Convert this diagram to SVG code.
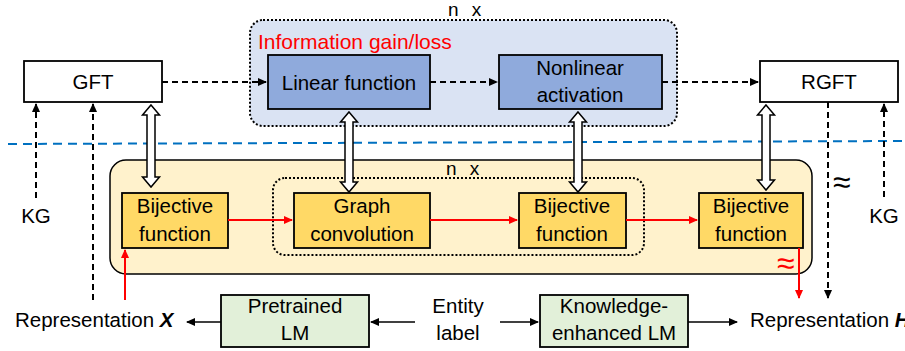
<svg xmlns="http://www.w3.org/2000/svg" width="905" height="351" viewBox="0 0 905 351">
<defs>
<style>
text{font-family:"Liberation Sans",Arial,sans-serif;font-size:20.5px;fill:#000}
.c{text-anchor:middle}
.box{stroke:#000;stroke-width:1.8}
.dash{fill:none;stroke:#000;stroke-width:2;stroke-dasharray:6,4}
.red{fill:none;stroke:#f00;stroke-width:2}
.solid{fill:none;stroke:#000;stroke-width:1.5}
.hollow{fill:#fff;stroke:#000;stroke-width:1.5}
.nx{font-size:19px;letter-spacing:4px}
.approx{font-family:"Liberation Sans",sans-serif;font-size:32px}
</style>
<marker id="ab" markerWidth="10" markerHeight="10" refX="8" refY="5" orient="auto" markerUnits="userSpaceOnUse"><path d="M0,1 L9,5 L0,9 Z" fill="#000"/></marker>
<marker id="ar" markerWidth="10" markerHeight="10" refX="8" refY="5" orient="auto" markerUnits="userSpaceOnUse"><path d="M0,1 L9,5 L0,9 Z" fill="#f00"/></marker>
</defs>
<rect width="905" height="351" fill="#fff"/>

<g id="outer-top">
<rect x="250" y="20" width="427" height="106" rx="13" fill="#DAE3F3" stroke="#000" stroke-width="2" stroke-dasharray="2,2"/>
<text class="nx" x="448" y="16">n x</text>
<text x="258" y="49" style="fill:#f00;font-size:21px">Information gain/loss</text>
</g>
<g id="outer-bottom">
<rect x="110" y="160" width="702" height="114" rx="16" fill="#FFF2CC" stroke="#000" stroke-width="1.5"/>
<rect x="273" y="178" width="371" height="77" rx="12" fill="none" stroke="#000" stroke-width="2" stroke-dasharray="2,2"/>
<text class="nx" x="446" y="175">n x</text>
</g>
<line x1="8" y1="144" x2="905" y2="141" stroke="#0070C0" stroke-width="2" stroke-dasharray="9,6"/>

<g id="gft"><rect class="box" x="24" y="61" width="138" height="41" fill="#fff"/><text class="c" x="93" y="89">GFT</text></g>
<g id="rgft"><rect class="box" x="760" y="61" width="138" height="41" fill="#fff"/><text class="c" x="829" y="89">RGFT</text></g>
<g id="linear"><rect class="box" x="268" y="55" width="162" height="54" fill="#8FAADC"/><text class="c" x="349" y="90">Linear function</text></g>
<g id="nonlinear"><rect class="box" x="499" y="55" width="163" height="54" fill="#8FAADC"/><text class="c" x="580" y="75">Nonlinear</text><text class="c" x="580" y="102">activation</text></g>
<g id="bij1"><rect class="box" x="122" y="193" width="106" height="55" fill="#FFD966"/><text class="c" x="175" y="213">Bijective</text><text class="c" x="175" y="241">function</text></g>
<g id="graphconv"><rect class="box" x="294" y="193" width="136" height="55" fill="#FFD966"/><text class="c" x="362" y="213">Graph</text><text class="c" x="362" y="241">convolution</text></g>
<g id="bij2"><rect class="box" x="519" y="193" width="107" height="55" fill="#FFD966"/><text class="c" x="572" y="213">Bijective</text><text class="c" x="572" y="241">function</text></g>
<g id="bij3"><rect class="box" x="699" y="193" width="104" height="55" fill="#FFD966"/><text class="c" x="751" y="213">Bijective</text><text class="c" x="751" y="241">function</text></g>
<g id="plm"><rect class="box" x="221" y="295" width="148" height="52" fill="#E2F0D9"/><text class="c" x="295" y="313">Pretrained</text><text class="c" x="295" y="340">LM</text></g>
<g id="klm"><rect class="box" x="540" y="295" width="148" height="52" fill="#E2F0D9"/><text class="c" x="614" y="313">Knowledge-</text><text class="c" x="614" y="340">enhanced LM</text></g>
<g id="entity"><text class="c" x="458" y="313">Entity</text><text class="c" x="458" y="340">label</text></g>
<g id="kg-left"><text class="c" x="36" y="223">KG</text></g>
<g id="kg-right"><text class="c" x="884" y="223">KG</text></g>
<g id="rep-x"><text x="15" y="327">Representation <tspan font-weight="bold" font-style="italic">X</tspan></text></g>
<g id="rep-h"><text x="750" y="327">Representation <tspan font-weight="bold" font-style="italic">H</tspan></text></g>

<g id="connectors">
<line class="dash" x1="162" y1="82" x2="266" y2="82" marker-end="url(#ab)"/>
<line class="dash" x1="430" y1="82" x2="497" y2="82" marker-end="url(#ab)"/>
<line class="dash" x1="662" y1="82" x2="758" y2="82" marker-end="url(#ab)"/>
<line class="dash" x1="36" y1="198" x2="36" y2="104" marker-end="url(#ab)"/>
<line class="dash" x1="93" y1="300" x2="93" y2="104" marker-end="url(#ab)"/>
<line class="dash" x1="828" y1="102" x2="828" y2="298" marker-end="url(#ab)"/>
<line class="dash" x1="884" y1="197" x2="884" y2="104" marker-end="url(#ab)"/>
<line class="red" x1="228" y1="220" x2="292" y2="220" marker-end="url(#ar)"/>
<line class="red" x1="430" y1="220" x2="517" y2="220" marker-end="url(#ar)"/>
<line class="red" x1="626" y1="220" x2="697" y2="220" marker-end="url(#ar)"/>
<line class="red" x1="125" y1="300" x2="125" y2="250" marker-end="url(#ar)"/>
<line class="red" x1="799" y1="248" x2="799" y2="298" marker-end="url(#ar)"/>
<line class="solid" x1="221" y1="322" x2="187" y2="322" marker-end="url(#ab)"/>
<line class="solid" x1="415" y1="322" x2="371" y2="322" marker-end="url(#ab)"/>
<line class="solid" x1="500" y1="322" x2="538" y2="322" marker-end="url(#ab)"/>
<line class="solid" x1="688" y1="322" x2="737" y2="322" marker-end="url(#ab)"/>
<path class="hollow" d="M151,105 l8.5,10 h-4.5 v62 h4.5 l-8.5,10 l-8.5,-10 h4.5 v-62 h-4.5 Z"/>
<path class="hollow" d="M349,112 l8.5,10 h-4.5 v60 h4.5 l-8.5,10 l-8.5,-10 h4.5 v-60 h-4.5 Z"/>
<path class="hollow" d="M578,112 l8.5,10 h-4.5 v60 h4.5 l-8.5,10 l-8.5,-10 h4.5 v-60 h-4.5 Z"/>
<path class="hollow" d="M766,105 l8.5,10 h-4.5 v65 h4.5 l-8.5,10 l-8.5,-10 h4.5 v-65 h-4.5 Z"/>
<text class="approx" x="833" y="193">≈</text>
<text class="approx" x="777" y="274" style="fill:#f00">≈</text>
</g>
</svg>
